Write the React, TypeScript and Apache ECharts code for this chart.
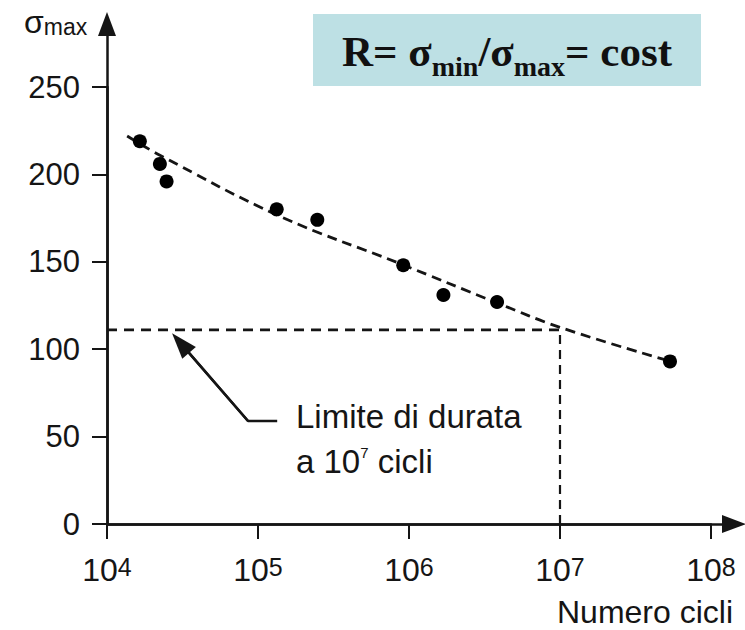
import React, { useEffect, useRef } from "react";
import * as echarts from "echarts";

// Data (cycles on a log axis, stress sigma_max)
const testCycles = [1.65e4, 2.24e4, 2.48e4, 1.33e5, 2.47e5, 9.16e5, 1.69e6, 3.83e6, 5.35e7];
const testSigma = [219, 206, 196, 180, 174, 148, 131, 127, 93];

const curveCycles = [1.36e4, 2.24e4, 1.4e5, 8.7e5, 3.83e6, 1e7, 4.95e7];
const curveSigma = [222, 211, 176, 149, 126.5, 112.5, 94];

const limitCycles = 1e7;
const limitSigma = 111;
const xMinCycles = 1e4;
const xMaxCycles = 1e8;

const yTicks = [0, 50, 100, 150, 200, 250];

// annotation arrow (data coordinates)
const arrowCycles = [1.34e5, 8.59e4, 3.07e4];
const arrowSigma = [58.9, 58.9, 103.5];

// formula in the box: [text, isSubscript]
const formulaParts: [string, boolean][] = [
  ["R= σ", false],
  ["min", true],
  ["/σ", false],
  ["max", true],
  ["= cost", false],
];

const INK = "#151515";
const SANS = "'Liberation Sans', Arial, sans-serif";
const SERIF = "'Liberation Serif', 'Times New Roman', serif";

export default function App() {
  const ref = useRef<HTMLDivElement>(null);
  useEffect(() => {
    if (!ref.current) return;
    const chart = echarts.init(ref.current, undefined, { renderer: "svg" });

    // lay out the formula pieces side by side
    const baseSize = 43;
    const subSize = 28;
    const ctx = document.createElement("canvas").getContext("2d");
    const measure = (t: string, size: number) => {
      if (!ctx) return t.length * size * 0.5;
      ctx.font = `bold ${size}px ${SERIF}`;
      return ctx.measureText(t).width;
    };
    const widths = formulaParts.map(([t, sub]) => measure(t, sub ? subSize : baseSize));
    const total = widths.reduce((a, b) => a + b, 0);
    let cx = 507 - total / 2;
    const formulaTexts = formulaParts.map(([t, sub], i) => {
      const el = {
        type: "text",
        x: cx,
        y: sub ? 66 : 51,
        z: 10,
        style: {
          text: t,
          fontFamily: SERIF,
          fontWeight: "bold",
          fontSize: sub ? subSize : baseSize,
          fill: "#111",
          align: "left",
          verticalAlign: "middle",
        },
      };
      cx += widths[i];
      return el;
    });

    const arrowAxisLine = {
      show: true,
      onZero: false,
      symbol: ["none", "triangle"],
      symbolSize: [18, 24],
      lineStyle: { color: INK, width: 2.5 },
    };
    const option: any = {
      animation: false,
      backgroundColor: "#ffffff",
      grid: [
        { left: 107, right: 34, top: 87, bottom: 106 },
        { left: 107, right: 11, top: 24, bottom: 106 },
      ],
      xAxis: [
        {
          type: "log",
          logBase: 10,
          gridIndex: 0,
          min: xMinCycles,
          max: xMaxCycles,
          axisLine: { show: true, lineStyle: { color: INK, width: 2.5 } },
          axisTick: { show: true, length: 15, lineStyle: { color: INK, width: 2 } },
          splitLine: { show: false },
          minorTick: { show: false },
          axisLabel: {
            margin: 30,
            color: INK,
            formatter: (v: number) => `{b|10}{e|${Math.round(Math.log10(v))}}`,
            rich: {
              b: { fontFamily: SANS, fontSize: 32, color: INK, lineHeight: 32 },
              e: { fontFamily: SANS, fontSize: 25, color: INK, lineHeight: 20, verticalAlign: "top" },
            },
          },
        },
        {
          type: "value",
          gridIndex: 1,
          min: 0,
          max: 1,
          axisLine: arrowAxisLine,
          axisTick: { show: false },
          axisLabel: { show: false },
          splitLine: { show: false },
        },
      ],
      yAxis: [
        {
          type: "value",
          gridIndex: 0,
          min: yTicks[0],
          max: yTicks[yTicks.length - 1],
          interval: 50,
          axisLine: { show: true, lineStyle: { color: INK, width: 2.5 } },
          axisTick: { show: true, length: 15, lineStyle: { color: INK, width: 2 } },
          splitLine: { show: false },
          axisLabel: { margin: 27, color: INK, fontFamily: SANS, fontSize: 31 },
        },
        {
          type: "value",
          gridIndex: 1,
          min: 0,
          max: 1,
          axisLine: arrowAxisLine,
          axisTick: { show: false },
          axisLabel: { show: false },
          splitLine: { show: false },
        },
      ],
      series: [
        {
          type: "line",
          xAxisIndex: 0,
          yAxisIndex: 0,
          data: curveCycles.map((c, i) => [c, curveSigma[i]]),
          smooth: 0.4,
          symbol: "none",
          lineStyle: { color: INK, width: 2.8, type: [10, 6] },
          silent: true,
          z: 3,
        },
        {
          type: "line",
          xAxisIndex: 0,
          yAxisIndex: 0,
          data: [
            [xMinCycles, limitSigma],
            [limitCycles, limitSigma],
          ],
          symbol: "none",
          lineStyle: { color: INK, width: 2.8, type: [10, 7] },
          silent: true,
        },
        {
          type: "line",
          xAxisIndex: 0,
          yAxisIndex: 0,
          data: [
            [limitCycles, 0],
            [limitCycles, limitSigma],
          ],
          symbol: "none",
          lineStyle: { color: INK, width: 2.2, type: [9, 6] },
          silent: true,
        },
        {
          type: "line",
          xAxisIndex: 0,
          yAxisIndex: 0,
          data: arrowCycles.map((c, i) => [c, arrowSigma[i]]),
          symbol: "none",
          lineStyle: { color: INK, width: 2.5 },
          silent: true,
          markLine: {
            silent: true,
            symbol: ["none", "triangle"],
            symbolSize: [18, 26],
            label: { show: false },
            lineStyle: { color: INK, width: 2.5, type: "solid" },
            data: [
              [
                { coord: [arrowCycles[1], arrowSigma[1]] },
                { coord: [arrowCycles[2], arrowSigma[2]] },
              ],
            ],
          },
        },
        {
          type: "scatter",
          xAxisIndex: 0,
          yAxisIndex: 0,
          data: testCycles.map((c, i) => [c, testSigma[i]]),
          symbol: "circle",
          symbolSize: 14,
          itemStyle: { color: "#000", opacity: 1 },
          z: 4,
        },
      ],
      graphic: [
        {
          type: "text",
          left: 24,
          top: 6,
          style: {
            text: "{s|σ}{m|max}",
            rich: {
              s: { fontFamily: SANS, fontSize: 32, fill: INK, verticalAlign: "bottom" },
              m: { fontFamily: SANS, fontSize: 23, fill: INK, verticalAlign: "bottom" },
            },
          },
        },
        {
          type: "rect",
          shape: { x: 313, y: 14, width: 388, height: 72 },
          style: { fill: "#bde0e4" },
        },
        ...formulaTexts,
        {
          type: "text",
          x: 296,
          y: 416,
          style: {
            text: "Limite di durata",
            fontFamily: SANS,
            fontSize: 33,
            fill: INK,
            verticalAlign: "middle",
          },
        },
        {
          type: "text",
          x: 296,
          y: 461,
          style: {
            text: "{t|a 10}{e|7}{t| cicli}",
            verticalAlign: "middle",
            rich: {
              t: { fontFamily: SANS, fontSize: 33, fill: INK, lineHeight: 33 },
              e: { fontFamily: SANS, fontSize: 15, fill: INK, lineHeight: 15, verticalAlign: "top" },
            },
          },
        },
        {
          type: "text",
          x: 733,
          y: 612,
          style: {
            text: "Numero cicli",
            fontFamily: SANS,
            fontSize: 32,
            fill: INK,
            align: "right",
            verticalAlign: "middle",
          },
        },
      ],
    };
    chart.setOption(option);
    return () => chart.dispose();
  }, []);
  return (
    <div
      ref={ref}
      style={{ position: "fixed", left: 0, top: 0, width: 745, height: 630 }}
    />
  );
}
